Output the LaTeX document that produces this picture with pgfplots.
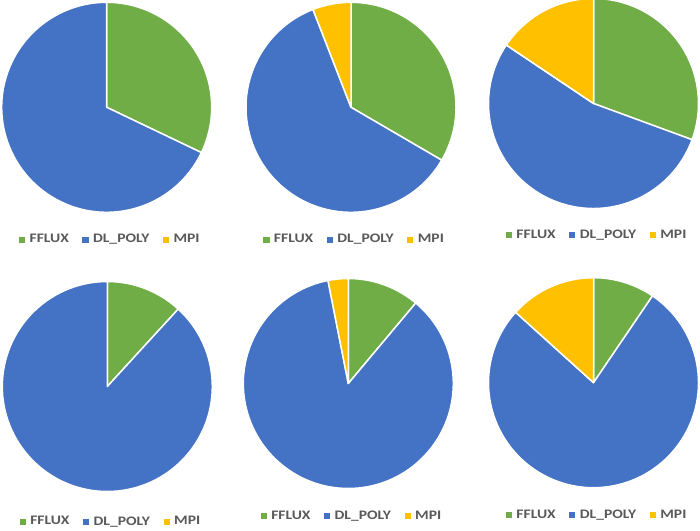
\documentclass[border=0pt]{standalone}
\usepackage{pgfplots}
\pgfplotsset{compat=1.18}
\usepackage{fontspec}
\setmainfont{Carlito}
\newfontfamily\legfam[FakeStretch=1.2]{Carlito}

\definecolor{fflux}{HTML}{70AD47}
\definecolor{dlpoly}{HTML}{4472C4}
\definecolor{mpi}{HTML}{FFC000}
\definecolor{legtext}{HTML}{595959}

\newcommand{\legfont}{\legfam\fontsize{13pt}{15pt}\selectfont\bfseries}
\tikzset{slice/.style={draw=white, line width=1.5pt, line join=round}}

\pgfplotsset{
  pie axis/.style={
    hide axis, scale only axis, clip=false,
    width=210pt, height=210pt,
    xmin=-1, xmax=1, ymin=-1, ymax=1,
    anchor=center,
    legend columns=3,
    legend image code/.code={\fill[##1] (0pt,-2.6pt) rectangle (5.2pt,2.6pt);},
    legend style={draw=none, fill=none, anchor=center,
      font=\legfont, text=legtext,
      nodes={inner xsep=1pt, inner ysep=1pt},
      /tikz/every odd column/.append style={column sep=4pt},
      /tikz/every even column/.append style={column sep=12.5pt}},
  },
}

% #1,#2: centre of the pie (pt), #3: legend height (axis rel.)
% #4 FFLUX, #5 DL_POLY, #6 MPI (percent)
\newcommand{\piechart}[6]{%
  \pgfmathsetmacro\angA{90-3.6*#4}%
  \pgfmathsetmacro\angB{\angA-3.6*#5}%
  \pgfmathsetmacro\angC{\angB-3.6*#6}%
  \begin{axis}[pie axis, at={(#1pt,#2pt)}, legend style={at={(0.515,#3)}}]
    \addlegendimage{fflux}\addlegendentry{FFLUX}
    \addlegendimage{dlpoly}\addlegendentry{DL\_POLY}
    \addlegendimage{mpi}\addlegendentry{MPI}
    \fill[fflux, slice] (axis cs:0,0) -- (axis cs:0,1)
      arc[start angle=90, end angle=\angA, radius=105pt] -- cycle;
    \fill[dlpoly, slice] (axis cs:0,0) -- (axis cs:{cos(\angA)},{sin(\angA)})
      arc[start angle=\angA, end angle=\angB, radius=105pt] -- cycle;
    \fill[mpi, slice] (axis cs:0,0) -- (axis cs:{cos(\angB)},{sin(\angB)})
      arc[start angle=\angB, end angle=\angC, radius=105pt] -- cycle;
  \end{axis}%
}

\begin{document}
\begin{tikzpicture}
\useasboundingbox (0,0) rectangle (700pt,530pt);
\piechart{106.7}{422.7}{-0.129}{32.1}{67.9}{0}
\piechart{351.0}{422.7}{-0.129}{33.4}{60.7}{5.9}
\piechart{593.5}{426.5}{-0.124}{30.6}{53.8}{15.6}
\piechart{107.3}{143.5}{-0.143}{11.8}{88.2}{0}
\piechart{348.3}{146.5}{-0.129}{11.1}{85.8}{3.1}
\piechart{593.5}{147.3}{-0.129}{9.5}{77.2}{13.3}
\end{tikzpicture}
\end{document}
